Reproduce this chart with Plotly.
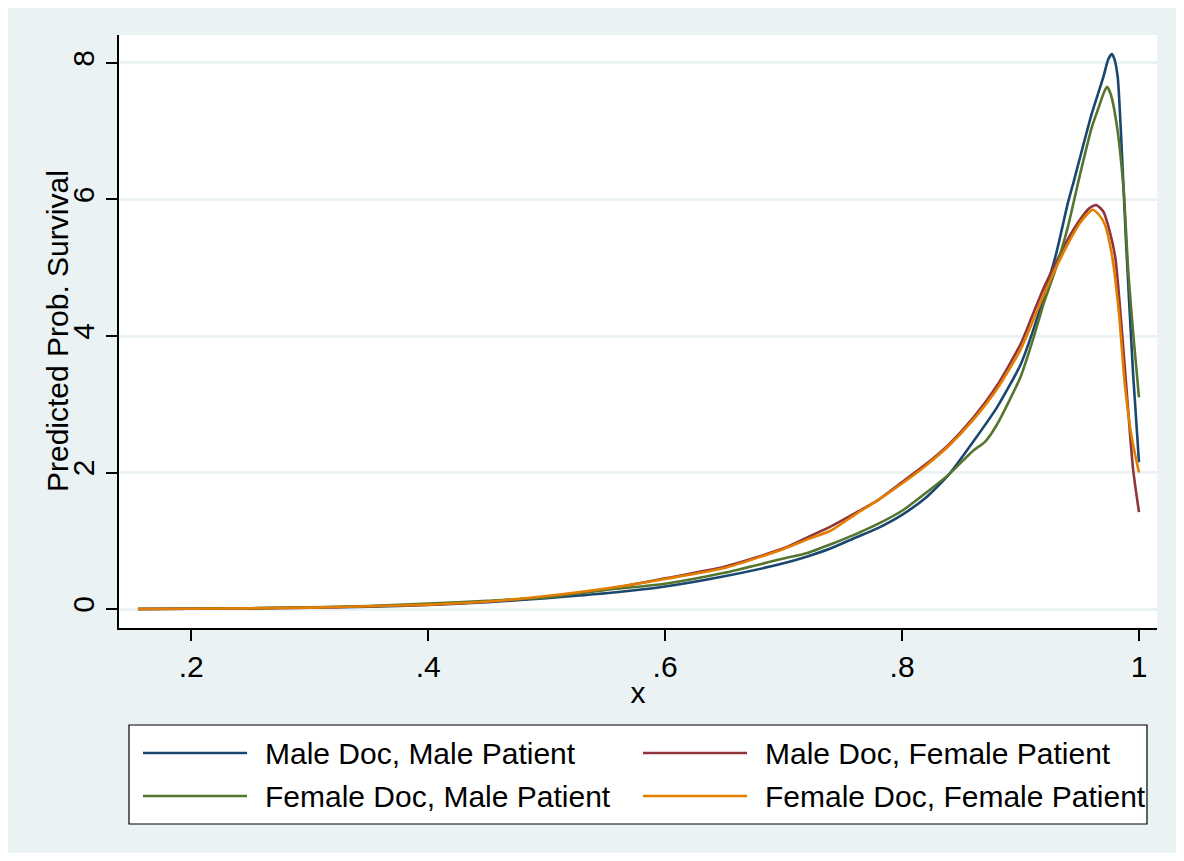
import plotly.graph_objects as go

# ---------------- data ----------------
series_names = ["Male Doc, Male Patient", "Male Doc, Female Patient",
                "Female Doc, Male Patient", "Female Doc, Female Patient"]

x_mm = [0.155, 0.20, 0.25, 0.30, 0.35, 0.40, 0.45, 0.50, 0.55, 0.60, 0.65, 0.70, 0.72, 0.74,
        0.76, 0.78, 0.80, 0.82, 0.84, 0.86, 0.88, 0.90, 0.91, 0.92, 0.93, 0.94, 0.945, 0.95,
        0.96, 0.97, 0.974, 0.977, 0.979, 0.982, 0.985, 0.989, 0.995, 1.0]
y_mm = [0.0, 0.005, 0.01, 0.02, 0.035, 0.06, 0.10, 0.16, 0.23, 0.33, 0.48, 0.67, 0.77, 0.89,
        1.04, 1.19, 1.38, 1.63, 1.98, 2.45, 2.95, 3.58, 4.05, 4.6, 5.2, 5.95, 6.27, 6.6,
        7.25, 7.8, 8.05, 8.13, 8.07, 7.8, 6.9, 5.4, 3.45, 2.15]

x_mf = [0.155, 0.20, 0.25, 0.30, 0.35, 0.40, 0.45, 0.50, 0.55, 0.60, 0.65, 0.70, 0.72, 0.74,
        0.76, 0.78, 0.80, 0.82, 0.84, 0.86, 0.88, 0.90, 0.91, 0.92, 0.93, 0.94, 0.95, 0.958,
        0.964, 0.970, 0.975, 0.980, 0.985, 0.990, 0.995, 1.0]
y_mf = [0.0, 0.005, 0.01, 0.02, 0.04, 0.065, 0.11, 0.18, 0.29, 0.45, 0.62, 0.89, 1.05, 1.21,
        1.40, 1.60, 1.86, 2.12, 2.42, 2.80, 3.27, 3.88, 4.3, 4.72, 5.08, 5.42, 5.70, 5.87,
        5.92, 5.82, 5.55, 5.15, 4.2, 3.1, 2.05, 1.42]

x_fm = [0.155, 0.20, 0.25, 0.30, 0.35, 0.40, 0.45, 0.50, 0.55, 0.60, 0.65, 0.70, 0.72, 0.74,
        0.76, 0.78, 0.80, 0.82, 0.84, 0.86, 0.87, 0.88, 0.90, 0.91, 0.92, 0.93, 0.94, 0.95,
        0.96, 0.966, 0.970, 0.973, 0.976, 0.981, 0.987, 0.991, 0.9955, 1.0]
y_fm = [0.0, 0.005, 0.012, 0.025, 0.045, 0.08, 0.12, 0.17, 0.28, 0.37, 0.53, 0.74, 0.82, 0.95,
        1.09, 1.25, 1.44, 1.70, 1.98, 2.32, 2.45, 2.70, 3.40, 3.92, 4.5, 5.0, 5.6, 6.35,
        7.05, 7.35, 7.55, 7.65, 7.55, 7.12, 6.15, 4.93, 3.96, 3.1]

x_ff = [0.155, 0.20, 0.25, 0.30, 0.35, 0.40, 0.45, 0.50, 0.55, 0.60, 0.65, 0.70, 0.72, 0.74,
        0.76, 0.78, 0.80, 0.82, 0.84, 0.86, 0.88, 0.90, 0.91, 0.92, 0.93, 0.94, 0.95, 0.956,
        0.961, 0.966, 0.971, 0.977, 0.983, 0.988, 0.994, 1.0]
y_ff = [0.0, 0.005, 0.01, 0.02, 0.04, 0.065, 0.11, 0.19, 0.30, 0.44, 0.60, 0.88, 1.02, 1.15,
        1.38, 1.60, 1.84, 2.10, 2.40, 2.77, 3.22, 3.80, 4.2, 4.62, 5.0, 5.35, 5.65, 5.78,
        5.85, 5.78, 5.64, 5.2, 4.35, 3.3, 2.5, 2.0]

x_tickvals = [0.2, 0.4, 0.6, 0.8, 1.0]
x_ticktext = [".2", ".4", ".6", ".8", "1"]
y_tickvals = [0, 2, 4, 6, 8]
y_ticktext = ["0", "2", "4", "6", "8"]

x_title = "x"
y_title = "Predicted Prob. Survival"

# ---------------- styling ----------------
colors = ["#1A476F", "#90353B", "#55752F", "#E37E00"]
BG = "#EAF2F3"
FONT = "Liberation Sans, Arial, Helvetica, sans-serif"
FS = 30
OFF = 8                                   # page body margin
W, H = 1184 - 2 * OFF, 861 - 2 * OFF      # figure size
# plot area in page pixels: 119..1157 x 35..628
L, T = 119 - OFF, 35 - OFF
R = W - (1157 - OFF)
B = H - (628 - OFF)
PW, PH = W - L - R, H - T - B


def px_x(px):          # page pixel -> paper x
    return (px - OFF - L) / PW


def px_y(py):          # page pixel -> paper y
    return (H - B - (py - OFF)) / PH


fig = go.Figure()
series = [(x_mm, y_mm), (x_mf, y_mf), (x_fm, y_fm), (x_ff, y_ff)]
for (xs, ys), name, col in zip(series, series_names, colors):
    fig.add_trace(go.Scatter(
        x=xs, y=ys, mode="lines", name=name, showlegend=False,
        line=dict(color=col, width=2.6, shape="spline", smoothing=0.6),
        hoverinfo="x+y+name"))

shapes = []
# manual legend (Stata style: boxed, 2 columns, long keys)
shapes.append(dict(type="rect", xref="paper", yref="paper",
                   x0=px_x(129), x1=px_x(1147), y0=px_y(725), y1=px_y(824),
                   fillcolor="white", line=dict(color="black", width=1.2), layer="above"))
annotations = []
key_pos = [(143, 247, 263, 753), (643, 747, 763, 753),
           (143, 247, 263, 796), (643, 747, 763, 796)]
legend_order = [0, 1, 2, 3]
for idx, (kx0, kx1, tx, ky) in zip(legend_order, key_pos):
    shapes.append(dict(type="line", xref="paper", yref="paper",
                       x0=px_x(kx0), x1=px_x(kx1), y0=px_y(ky), y1=px_y(ky),
                       line=dict(color=colors[idx], width=2.6), layer="above"))
    annotations.append(dict(xref="paper", yref="paper", x=px_x(tx), y=px_y(ky),
                            text=series_names[idx], showarrow=False,
                            xanchor="left", yanchor="middle",
                            font=dict(family=FONT, size=FS, color="black")))

# y-axis title placed like Stata (close to the tick labels)
annotations.append(dict(xref="paper", yref="paper", x=px_x(57), y=px_y(331),
                        text=y_title, showarrow=False, textangle=-90,
                        xanchor="center", yanchor="middle",
                        font=dict(family=FONT, size=FS, color="black")))

fig.update_layout(
    width=W, height=H,
    margin=dict(l=L, r=R, t=T, b=B, autoexpand=False),
    paper_bgcolor=BG, plot_bgcolor="white",
    font=dict(family=FONT, size=FS, color="black"),
    shapes=shapes, annotations=annotations,
    showlegend=False,
    xaxis=dict(range=[0.139, 1.0152], tickvals=x_tickvals, ticktext=x_ticktext,
               showgrid=False, zeroline=False, showline=True, linecolor="black",
               linewidth=1.5, ticks="outside", ticklen=11, tickwidth=1.5,
               tickcolor="black", tickfont=dict(size=FS),
               title=dict(text=x_title, font=dict(size=FS), standoff=0)),
    yaxis=dict(range=[-0.278, 8.41], tickvals=y_tickvals, ticktext=y_ticktext,
               showgrid=True, gridcolor=BG, gridwidth=2.5, zeroline=False,
               showline=True, linecolor="black", linewidth=1.5, ticks="outside",
               ticklen=11, tickwidth=1.5, tickcolor="black", tickangle=-90,
               tickfont=dict(size=FS)),
)

fig.write_html("out.html")
